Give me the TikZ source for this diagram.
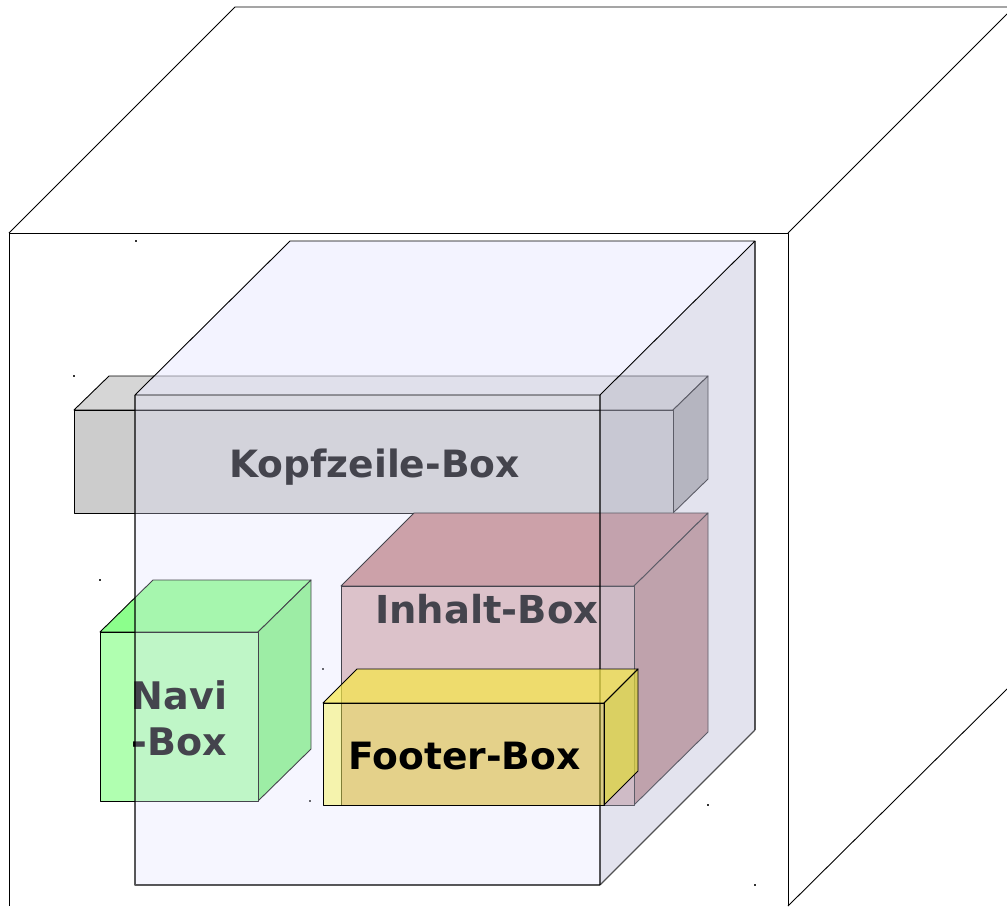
\documentclass[tikz,border=0pt]{standalone}
\usepackage{fontspec}
\setmainfont{DejaVu Sans}
\definecolor{kopfF}{HTML}{CCCCCC}\definecolor{kopfT}{HTML}{D6D6D6}\definecolor{kopfR}{HTML}{A8A8A8}
\definecolor{inhF}{HTML}{D9B4B4}\definecolor{inhT}{HTML}{C38585}\definecolor{inhR}{HTML}{BB8484}
\definecolor{navF}{HTML}{B0FFB0}\definecolor{navT}{HTML}{8CFF8C}\definecolor{navR}{HTML}{7FF27F}
\definecolor{bigF}{RGB}{228,228,255}\definecolor{bigT}{RGB}{234,234,255}\definecolor{bigR}{RGB}{196,196,219}
\definecolor{footF}{RGB}{244,238,15}\definecolor{footT}{RGB}{246,232,70}\definecolor{footR}{RGB}{223,217,56}
\tikzset{
  face/.style={draw=black,line width=0.9pt,line join=round},
  boxlabel/.style={inner sep=0pt,font=\bfseries\fontsize{38}{46}\selectfont,text=black},
  speck/.style={fill=black!80,inner sep=0pt,minimum size=1.1pt,shape=rectangle},
  bigedge/.style={draw=black,draw opacity=0.65,line width=1.2pt,line join=round},
  ink/.style={draw=black,line width=0.9pt,line join=round}
}
\begin{document}
\begin{tikzpicture}[x=1pt,y=-1pt]
\useasboundingbox (0,0) rectangle (1007,906);
\fill[white] (0,0) rectangle (1007,906);
% outer box
\draw[ink] (9,906) -- (9,233) -- (788,233) -- (788,906);
\draw[ink] (9,233) -- (235,7) -- (1007,7);
\draw[ink] (788,233) -- (1007,14);
\draw[ink] (788,906) -- (1007,689);
% specks
\foreach \p/\n in {136/241,74/376,100/580,323/669,310/801,708/805,755/885,340/513}
  \node[speck] at (\p,\n) {};
% Kopfzeile box
\draw[face,fill=kopfT] (74,410) -- (109,376) -- (708,376) -- (673,410) -- cycle;
\draw[face,fill=kopfR] (673,410) -- (708,376) -- (708,479) -- (673,513) -- cycle;
\draw[face,fill=kopfF] (74,410) rectangle (673,513);
\node[boxlabel,font=\bfseries\fontsize{37.6}{46}\selectfont,anchor=base west] (kopf) at (229,477) {Kopfzeile-Box};
% Inhalt box
\draw[face,fill=inhT] (341,586) -- (414,513) -- (708,513) -- (634,586) -- cycle;
\draw[face,fill=inhR] (634,586) -- (708,513) -- (708,732) -- (634,805) -- cycle;
\draw[face,fill=inhF] (341,586) rectangle (634,805);
\node[boxlabel,font=\bfseries\fontsize{38.5}{46}\selectfont,anchor=base west] (inhalt) at (375,623) {Inhalt-Box};
% Navi box
\draw[face,fill=navT] (100,632) -- (153,580) -- (311,580) -- (258,632) -- cycle;
\draw[face,fill=navR] (258,632) -- (311,580) -- (311,749) -- (258,801) -- cycle;
\draw[face,fill=navF] (100,632) rectangle (258,801);
\node[boxlabel,anchor=base] (navi) at (179.5,709) {Navi};
\node[boxlabel,anchor=base] (navibox) at (179.5,755) {-Box};
% big translucent box
\fill[bigT,opacity=0.53] (135,395) -- (290,241) -- (755,241) -- (600,395) -- cycle;
\fill[bigR,opacity=0.47] (600,395) -- (755,241) -- (755,730) -- (600,885) -- cycle;
\fill[bigF,opacity=0.30] (135,395) rectangle (600,885);
\draw[bigedge] (135,395) -- (135,885) -- (600,885);
\draw[bigedge] (600,395) -- (600,885);
\draw[bigedge] (755,241) -- (755,730);
\draw[bigedge] (755,730) -- (600,885);
\draw[ink] (135,395) -- (290,241) -- (755,241) -- (600,395) -- cycle;
% Footer box
\fill[footT,opacity=0.7] (323,703) -- (357,669) -- (638,669) -- (604,703) -- cycle;
\fill[footR,opacity=0.7] (604,703) -- (638,669) -- (638,771) -- (604,805) -- cycle;
\fill[footF,opacity=0.34] (323,703) rectangle (604,805);
\draw[ink] (323,703) -- (357,669) -- (638,669) -- (604,703) -- cycle;
\draw[ink] (604,703) -- (638,669) -- (638,771) -- (604,805) -- cycle;
\draw[ink] (323,703) rectangle (604,805);
\node[boxlabel,font=\bfseries\fontsize{37.6}{46}\selectfont,anchor=base west] (footer) at (348,769) {Footer-Box};
\end{tikzpicture}
\end{document}
